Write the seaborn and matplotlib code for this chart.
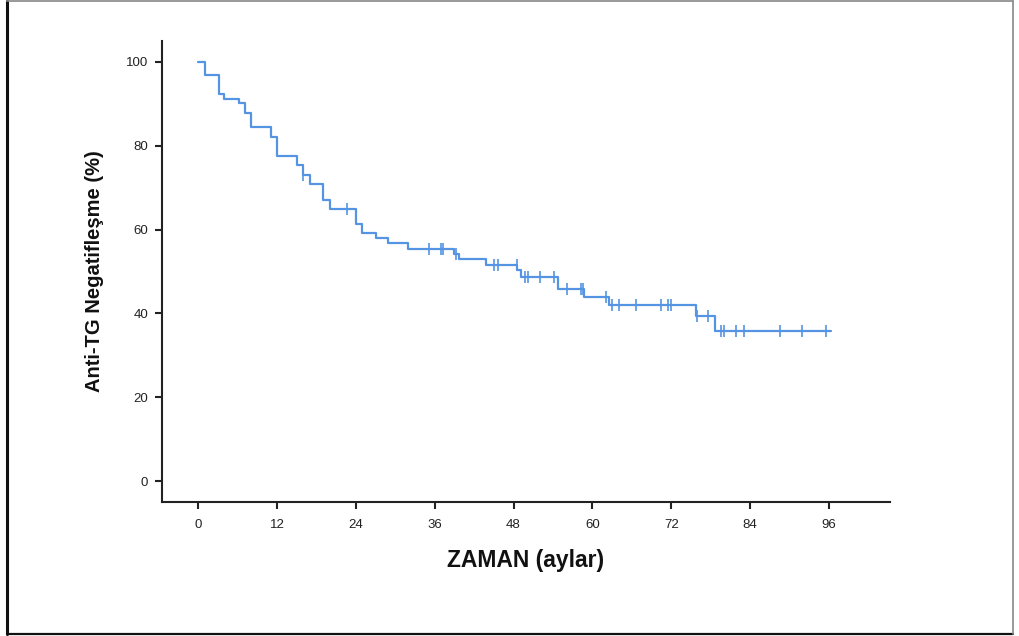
import matplotlib
matplotlib.use("Agg")
import matplotlib.pyplot as plt
import numpy as np
import pandas as pd
import seaborn as sns
from matplotlib.lines import Line2D

# Kaplan-Meier step curve (time in months, % negative)
step_time = [0, 1.0, 3.2, 4.0, 6.2, 7.1, 8.0, 11.1, 12.0, 15.0, 16.0, 17.0,
             19.0, 20.0, 24.1, 24.9, 27.0, 28.9, 32.0, 38.9, 39.7, 43.8,
             48.5, 49.2, 54.8, 58.8, 62.6, 75.7, 78.7, 96.3]
step_surv = [100, 96.9, 92.4, 91.2, 90.1, 87.8, 84.4, 82.0, 77.6, 75.3, 73.0,
             70.8, 67.1, 64.8, 61.3, 59.1, 57.9, 56.9, 55.4, 54.2, 52.9, 51.6,
             50.4, 48.7, 45.8, 43.8, 42.0, 39.3, 35.7, 35.7]

# censored observations
cens_time = [15.9, 22.6, 35.1, 36.9, 37.3, 39.2, 45.1, 45.7, 48.5, 49.8, 50.2,
             52.0, 54.1, 56.1, 58.3, 58.6, 62.1, 63.0, 64.0, 66.7, 70.5, 71.5,
             72.0, 76.0, 77.6, 79.6, 80.0, 81.9, 83.1, 88.5, 91.9, 95.5]
cens_surv = [73.0, 64.8, 55.4, 55.4, 55.4, 54.2, 51.6, 51.6, 51.6, 48.7, 48.7,
             48.7, 48.7, 45.8, 45.8, 45.8, 43.8, 42.0, 42.0, 42.0, 42.0, 42.0,
             42.0, 39.3, 39.3, 35.7, 35.7, 35.7, 35.7, 35.7, 35.7, 35.7]

x_ticks = [0, 12, 24, 36, 48, 60, 72, 84, 96]
y_ticks = [0, 20, 40, 60, 80, 100]

df_step = pd.DataFrame({"time": step_time, "surv": step_surv})
df_cens = pd.DataFrame({"time": cens_time, "surv": cens_surv})

sns.set_style("ticks")
plt.rcParams["font.family"] = ["Liberation Sans", "DejaVu Sans"]

blue = "#5494e2"

fig = plt.figure(figsize=(10.2, 6.36), dpi=100)
ax = fig.add_axes([162 / 1020, 1 - 502 / 636, (890 - 162) / 1020, (502 - 41) / 636])

sns.lineplot(data=df_step, x="time", y="surv", drawstyle="steps-post",
             color=blue, linewidth=1.6, ax=ax)
sns.scatterplot(data=df_cens, x="time", y="surv", marker="|", s=80,
                color=blue, linewidth=1.2, ax=ax, zorder=3)

ax.set_xlim(-5.5, 105.3)
ax.set_ylim(-5, 105)
ax.set_xticks(x_ticks)
ax.set_yticks(y_ticks)
ax.tick_params(axis="both", labelsize=9.5, length=5, width=1.5, color="#222222",
               labelcolor="#222222")
ax.tick_params(axis="x", pad=7)
ax.tick_params(axis="y", pad=5)
for side in ["left", "bottom"]:
    ax.spines[side].set_linewidth(1.5)
    ax.spines[side].set_color("#222222")
sns.despine(ax=ax)

ax.set_xlabel("ZAMAN (aylar)", fontsize=16.5, fontweight="bold", labelpad=13,
              color="#111111")
ax.set_ylabel("Anti-TG Negatifleşme (%)", fontsize=14.5, fontweight="bold", labelpad=16,
              color="#111111")

# outer frame
fig.add_artist(Line2D([7 / 1020, 7 / 1020], [0.003, 0.999], transform=fig.transFigure,
                      color="#111111", linewidth=2.2))
fig.add_artist(Line2D([7 / 1020, 1013 / 1020], [0.999, 0.999], transform=fig.transFigure,
                      color="#888888", linewidth=1.2))
fig.add_artist(Line2D([7 / 1020, 1013 / 1020], [0.003, 0.003], transform=fig.transFigure,
                      color="#111111", linewidth=1.6))
fig.add_artist(Line2D([1013 / 1020, 1013 / 1020], [0.003, 0.999], transform=fig.transFigure,
                      color="#888888", linewidth=1.2))

fig.savefig("out.png", dpi=100)
